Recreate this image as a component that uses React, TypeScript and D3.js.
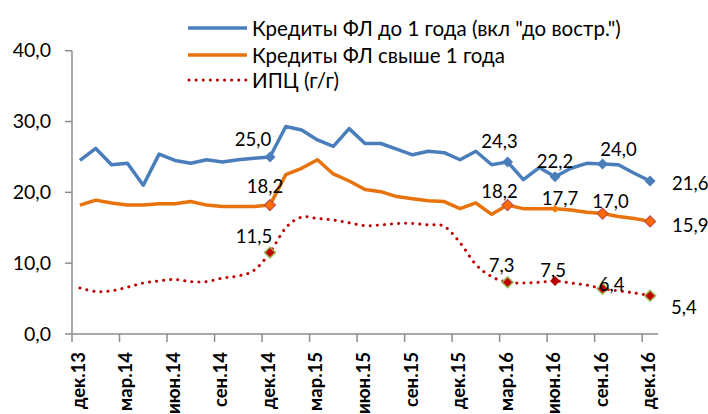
import React from "react"
import * as d3 from "d3"

const width = 708
const height = 414

const months = [
  "дек.13", "янв.14", "фев.14", "мар.14", "апр.14", "май.14", "июн.14", "июл.14", "авг.14",
  "сен.14", "окт.14", "ноя.14", "дек.14", "янв.15", "фев.15", "мар.15", "апр.15", "май.15",
  "июн.15", "июл.15", "авг.15", "сен.15", "окт.15", "ноя.15", "дек.15", "янв.16", "фев.16",
  "мар.16", "апр.16", "май.16", "июн.16", "июл.16", "авг.16", "сен.16", "окт.16", "ноя.16", "дек.16",
]

// Кредиты ФЛ до 1 года (вкл "до востр.")
const shortLoans = [
  24.5, 26.2, 23.9, 24.1, 21.0, 25.4, 24.5, 24.1, 24.6, 24.3, 24.6, 24.8, 25.0,
  29.3, 28.8, 27.4, 26.5, 29.0, 26.9, 26.9, 26.1, 25.3, 25.8, 25.6, 24.6, 25.8,
  23.9, 24.3, 21.8, 23.5, 22.2, 23.4, 24.1, 24.0, 23.9, 22.7, 21.6,
]

// Кредиты ФЛ свыше 1 года
const longLoans = [
  18.2, 18.9, 18.5, 18.2, 18.2, 18.4, 18.4, 18.7, 18.2, 18.0, 18.0, 18.0, 18.2,
  22.5, 23.4, 24.6, 22.6, 21.6, 20.4, 20.1, 19.4, 19.1, 18.8, 18.7, 17.7, 18.5,
  16.9, 18.2, 17.7, 17.7, 17.7, 17.5, 17.2, 17.0, 16.6, 16.3, 15.9,
]

// ИПЦ (г/г)
const cpi = [
  6.5, 6.0, 6.1, 6.6, 7.2, 7.5, 7.7, 7.4, 7.4, 7.9, 8.2, 9.0, 11.5,
  15.0, 16.5, 16.3, 16.1, 15.7, 15.3, 15.4, 15.6, 15.6, 15.4, 15.2, 12.9, 9.8,
  8.1, 7.3, 7.2, 7.3, 7.5, 7.2, 6.9, 6.4, 6.1, 5.8, 5.4,
]

const yTicks = [0, 10, 20, 30, 40]
const labelled = [12, 27, 30, 33, 36]

const legendNames = ['Кредиты ФЛ до 1 года (вкл  "до востр.")', "Кредиты ФЛ свыше 1 года", "ИПЦ (г/г)"]

const fmt = (v: number) => d3.format(".1f")(v).replace(".", ",")
const font = "Lato, 'Open Sans', sans-serif"

// label offsets (dx, dy, anchor) for each labelled point, per series
const blueOffsets: [number, number, string][] = [[-17, -11, "middle"], [-8, -14, "middle"], [0, -9, "middle"], [16, -8, "middle"], [22, 9, "start"]]
const orangeOffsets: [number, number, string][] = [[-5, -12, "middle"], [-8, -7, "middle"], [5, -4, "middle"], [8, -6, "middle"], [22, 11, "start"]]
const redOffsets: [number, number, string][] = [[-16, -10, "middle"], [-6, -10, "middle"], [-2, -4, "middle"], [9, 2, "middle"], [21, 18, "start"]]

const diamond = (cx: number, cy: number, r: number) =>
  `M${cx},${cy - r}L${cx + r},${cy}L${cx},${cy + r}L${cx - r},${cy}Z`

export default function App() {
  const x = d3.scaleBand<number>().domain(d3.range(months.length)).range([72, 658])
  const cx = (i: number) => (x(i) as number) + x.bandwidth() / 2
  const y = d3.scaleLinear().domain([0, 40]).range([334, 50.7])

  const straight = d3.line<number>().x((_, i) => cx(i)).y(d => y(d))
  const smooth = d3.line<number>().x((_, i) => cx(i)).y(d => y(d)).curve(d3.curveCardinal.tension(0))

  const blue = "#4a7ebb"
  const orange = "#e8730c"
  const red = "#c00000"
  const axisColor = "#8c8c8c"

  const dataLabels = (vals: number[], offs: [number, number, string][]) =>
    labelled.map((i, k) => (
      <text key={i} x={cx(i) + offs[k][0]} y={y(vals[i]) + offs[k][1]} textAnchor={offs[k][2]}
        fontSize={18.5} fontFamily={font} fill="#000">{fmt(vals[i])}</text>
    ))

  return (
    <svg width={width} height={height} style={{ position: "absolute", left: 0, top: 0, background: "#fff" }}>
      {/* axes */}
      <line x1={72} x2={72} y1={y(40)} y2={y(0)} stroke={axisColor} strokeWidth={1.5} />
      <line x1={72} x2={658} y1={y(0)} y2={y(0)} stroke={axisColor} strokeWidth={1.5} />
      {yTicks.map(t => (
        <g key={t}>
          <line x1={65} x2={72} y1={y(t)} y2={y(t)} stroke={axisColor} strokeWidth={1.5} />
          <text x={51} y={y(t) + 6.5} textAnchor="end" fontSize={19.5} fontFamily={font}>{fmt(t)}</text>
        </g>
      ))}
      {months.map((m, i) => i % 3 === 0 && (
        <g key={m}>
          <line x1={x(i)} x2={x(i)} y1={y(0)} y2={y(0) + 8} stroke={axisColor} strokeWidth={1.5} />
          <text transform={`translate(${cx(i) + 5},352) rotate(-90)`} textAnchor="end"
            fontSize={18.5} fontWeight="bold" fontFamily={font}>{m}</text>
        </g>
      ))}

      {/* series */}
      <path d={straight(shortLoans) || ""} fill="none" stroke={blue} strokeWidth={3.5} strokeLinejoin="round" />
      <path d={straight(longLoans) || ""} fill="none" stroke={orange} strokeWidth={3.5} strokeLinejoin="round" />
      <path d={smooth(cpi) || ""} fill="none" stroke={red} strokeWidth={3} strokeDasharray="0.1 7" strokeLinecap="round" />

      {/* markers */}
      {labelled.map(i => (
        <path key={"b" + i} d={diamond(cx(i), y(shortLoans[i]), 5.5)} fill={blue} />
      ))}
      {labelled.map(i => i === 30
        ? <path key={"o" + i} d={diamond(cx(i), y(longLoans[i]), 4)} fill="#f57a00" />
        : <path key={"o" + i} d={diamond(cx(i), y(longLoans[i]), 5.5)} fill="#ff6a00" stroke="#c0504d" strokeWidth={1.2} />
      )}
      {labelled.map(i => i === 30
        ? <path key={"r" + i} d={diamond(cx(i), y(cpi[i]), 5)} fill={red} />
        : <path key={"r" + i} d={diamond(cx(i), y(cpi[i]), 5.5)} fill={red} stroke="#9bbb59" strokeWidth={1.5} />
      )}

      {dataLabels(shortLoans, blueOffsets)}
      {dataLabels(longLoans, orangeOffsets)}
      {dataLabels(cpi, redOffsets)}

      {/* legend */}
      {legendNames.map((name, k) => {
        const ly = [28, 55, 80][k]
        return (
          <g key={name}>
            {k < 2
              ? <line x1={188} x2={247} y1={ly} y2={ly} stroke={k === 0 ? blue : orange} strokeWidth={3.5} />
              : <line x1={189} x2={247} y1={ly} y2={ly} stroke={red} strokeWidth={3} strokeDasharray="0.1 7" strokeLinecap="round" />}
            <text x={252} y={ly + 8} fontSize={20.5} fontFamily={font}>{name}</text>
          </g>
        )
      })}
    </svg>
  )
}
